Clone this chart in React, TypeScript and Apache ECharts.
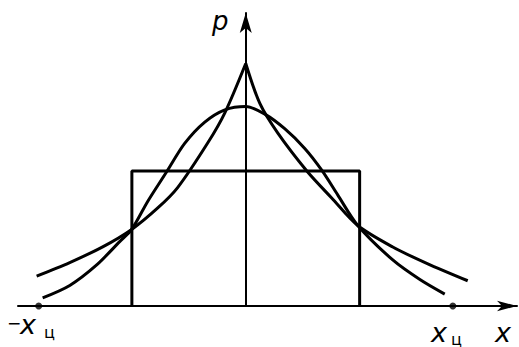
import React, { useEffect, useRef } from "react";
import * as echarts from "echarts";

// Uniform (rectangular) density: half-width and height
const uniformHalfWidth = 0.55;
const uniformHeight = 1.0;

// Bell-shaped density: abscissae and ordinates
const normalX = [-0.981, -0.85, -0.72, -0.609, -0.551, -0.473, -0.382, -0.295, -0.198, -0.101, 0, 0.092, 0.188, 0.285, 0.367, 0.444, 0.541, 0.71, 0.841, 0.961];
const normalP = [0.06, 0.152, 0.304, 0.477, 0.567, 0.776, 0.994, 1.204, 1.362, 1.453, 1.478, 1.421, 1.313, 1.167, 1.006, 0.823, 0.596, 0.341, 0.196, 0.088];

// Peaked density, two branches meeting at the cusp on the p axis
const laplaceLeftX = [-1.01, -0.85, -0.691, -0.551, -0.425, -0.329, -0.184, -0.101, 0];
const laplaceLeftP = [0.222, 0.322, 0.438, 0.567, 0.726, 0.877, 1.207, 1.431, 1.796];
const laplaceRightX = [0, 0.068, 0.155, 0.295, 0.415, 0.541, 0.71, 0.874, 1.072];
const laplaceRightP = [1.796, 1.5, 1.28, 1.0, 0.8, 0.596, 0.437, 0.316, 0.187];

// Boundary points ±x_ц on the x axis
const boundaryX = [-1, 1];

const pairs = (xs: number[], ys: number[]) => xs.map((x, i) => [x, ys[i]]);

const INK = "#000";

export default function App() {
  const ref = useRef<HTMLDivElement>(null);

  useEffect(() => {
    if (!ref.current) return;
    const chart = echarts.init(ref.current, undefined, { renderer: "svg" });

    const curve = (data: number[][]) => ({
      type: "line",
      data,
      smooth: 0.3,
      symbol: "none",
      lineStyle: { color: INK, width: 3 },
      silent: true,
    });

    const axisLine = (size: number[]) => ({
      onZero: true,
      lineStyle: { color: INK, width: 2 },
      symbol: ["none", "arrow"],
      symbolSize: size,
    });

    const labelFont = {
      fill: INK,
      fontFamily: "DejaVu Sans",
      fontStyle: "italic",
    };

    chart.setOption({
      animation: false,
      backgroundColor: "#fff",
      grid: { left: 18, right: 2, top: 13, bottom: 41 },
      xAxis: {
        type: "value",
        min: -1.1,
        max: 1.31,
        axisLine: axisLine([8, 20]),
        axisTick: { show: false },
        axisLabel: { show: false },
        splitLine: { show: false },
      },
      yAxis: {
        type: "value",
        min: 0,
        max: 2.17,
        axisLine: axisLine([9, 20]),
        axisTick: { show: false },
        axisLabel: { show: false },
        splitLine: { show: false },
      },
      series: [
        {
          type: "line",
          data: [
            [-uniformHalfWidth, 0],
            [-uniformHalfWidth, uniformHeight],
            [uniformHalfWidth, uniformHeight],
            [uniformHalfWidth, 0],
          ],
          symbol: "none",
          lineStyle: { color: INK, width: 3 },
          silent: true,
        },
        curve(pairs(normalX, normalP)),
        curve(pairs(laplaceLeftX, laplaceLeftP)),
        curve(pairs(laplaceRightX, laplaceRightP)),
        {
          type: "scatter",
          data: boundaryX.map((x) => [x, 0]),
          symbolSize: 7,
          itemStyle: { color: INK },
          silent: true,
        },
      ],
      graphic: [
        { type: "text", left: 212, top: 8, style: { ...labelFont, text: "p", fontSize: 26 } },
        { type: "text", left: 495, top: 319, style: { ...labelFont, text: "x", fontSize: 27 } },
        { type: "text", left: 431, top: 319, style: { ...labelFont, text: "x", fontSize: 27 } },
        { type: "text", left: 451, top: 331, style: { ...labelFont, fontStyle: "normal", text: "ц", fontSize: 16 } },
        { type: "text", left: 7, top: 314, style: { ...labelFont, fontStyle: "normal", text: "−", fontSize: 17 } },
        { type: "text", left: 20, top: 311, style: { ...labelFont, text: "x", fontSize: 27 } },
        { type: "text", left: 44, top: 324, style: { ...labelFont, fontStyle: "normal", text: "ц", fontSize: 16 } },
      ],
    });

    return () => chart.dispose();
  }, []);

  return (
    <div
      ref={ref}
      style={{ position: "fixed", left: 0, top: 0, width: 519, height: 347, background: "#fff" }}
    />
  );
}
